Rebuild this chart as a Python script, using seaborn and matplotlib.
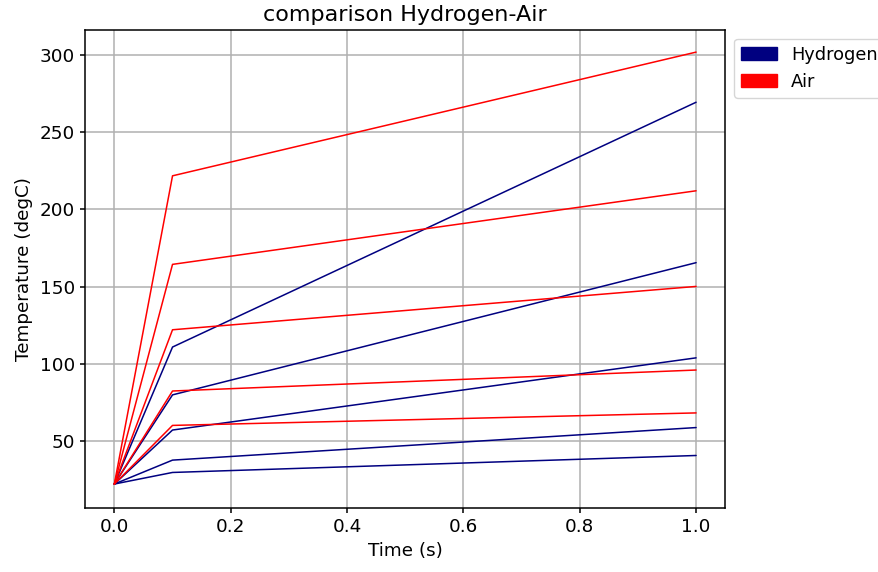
import matplotlib
matplotlib.use("Agg")
import matplotlib.pyplot as plt
import matplotlib.patches as mpatches
import seaborn as sns
import pandas as pd

times = [0.0, 0.1, 1.0]
hydrogen_runs = [
    [22, 29.5, 40.5],
    [22, 37.5, 58.6],
    [22, 57.0, 103.8],
    [22, 79.8, 165.5],
    [22, 110.8, 269.5],
]
air_runs = [
    [22, 60.0, 68.1],
    [22, 82.3, 95.9],
    [22, 122.0, 150.1],
    [22, 164.4, 212.1],
    [22, 221.8, 302.0],
]
series_names = ["Hydrogen", "Air"]
series_colors = {"Hydrogen": "navy", "Air": "red"}

rows = []
for name, runs in zip(series_names, [hydrogen_runs, air_runs]):
    for i, run in enumerate(runs):
        for t, v in zip(times, run):
            rows.append({"gas": name, "run": f"{name}{i}", "time": t, "temp": v})
df = pd.DataFrame(rows)

sns.set_style("white", rc={"axes.labelcolor": "black", "text.color": "black",
                           "xtick.color": "black", "ytick.color": "black",
                           "axes.edgecolor": "black"})
plt.rcParams["font.family"] = ["DejaVu Sans"]
fig, ax = plt.subplots(figsize=(8.79, 5.72), dpi=100)
fig.subplots_adjust(left=0.097, right=0.825, top=0.948, bottom=0.112)

sns.lineplot(data=df, x="time", y="temp", hue="gas", units="run", estimator=None,
             palette=series_colors, linewidth=1.1, ax=ax, legend=False)

ax.grid(True, color="#b0b0b0", linewidth=1.1)
for s in ax.spines.values():
    s.set_color("black")
    s.set_linewidth(1.1)
ax.tick_params(axis="both", which="major", labelsize=13.2, direction="out", length=3.8,
               width=1.1, left=True, bottom=True, color="black", labelcolor="black")
ax.set_xticks([0.0, 0.2, 0.4, 0.6, 0.8, 1.0])
ax.set_yticks([50, 100, 150, 200, 250, 300])
ax.set_ylim(6.5, 316.5)
ax.set_xlim(-0.05, 1.05)
ax.set_xlabel("Time (s)", fontsize=13.2, color="black")
ax.set_ylabel("Temperature (degC)", fontsize=13.2, color="black", labelpad=5)
ax.set_title("comparison Hydrogen-Air", fontsize=16, color="black")

handles = [mpatches.Patch(color=series_colors[n], label=n) for n in series_names]
ax.legend(handles=handles, loc="upper left", bbox_to_anchor=(1.0, 1.0), fontsize=12.8,
          frameon=True)

fig.savefig("out.png", dpi=100)
